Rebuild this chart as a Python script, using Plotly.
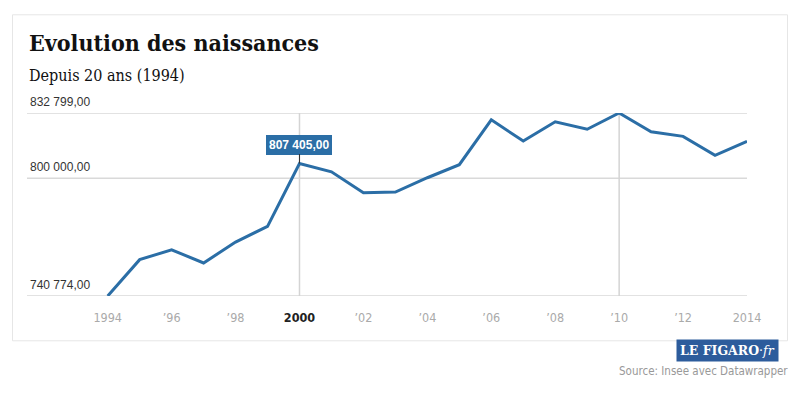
import plotly.graph_objects as go

years = list(range(1994, 2015))
births = [740774, 759058, 764028, 757384, 767906, 775796, 807405, 803234,
          792745, 793044, 800240, 806822, 829352, 818705, 828404, 824641,
          832799, 823394, 821047, 811510, 818565]
y_ticks = [740774, 800000, 832799]
x_tickvals = list(range(1994, 2015, 2))
x_ticktext = ["1994", "’96", "’98", "<b><span style='color:#222'>2000</span></b>", "’02", "’04",
              "’06", "’08", "’10", "’12", "2014"]
highlight_year = 2000
vlines = [2000, 2010]

# page body has an 8px margin; work in reference pixel coords and shift
OFF = 8
W, H = 800 - OFF, 393 - OFF
PL, PR, PT, PB = 27, 747, 112.7, 295.7   # plot area in reference pixels
L, R, T, B = PL - OFF, W - (PR - OFF), PT - OFF, H - (PB - OFF)
PW, PH = PR - PL, PB - PT

def px(x):
    return (x - PL) / PW

def py(y):
    return (PB - y) / PH

def fmt(v):
    s = f"{v:,.2f}"
    return s.replace(",", " ").replace(".", ",")

blue = "#2b6ea6"

fig = go.Figure()
fig.add_trace(go.Scatter(x=years, y=births, mode="lines",
                         line=dict(color=blue, width=3),
                         cliponaxis=False, hoverinfo="skip"))

shapes = []
shapes.append(dict(type="rect", xref="paper", yref="paper",
                   x0=px(12.5), x1=px(787.5), y0=py(340.5), y1=py(14.5),
                   line=dict(color="#e6e6e6", width=1), fillcolor="rgba(0,0,0,0)", layer="below"))
for v in y_ticks:
    shapes.append(dict(type="line", xref="paper", yref="y", x0=0, x1=1, y0=v, y1=v,
                       line=dict(color="#d9d9d9", width=1.5), layer="below"))
for v in vlines:
    shapes.append(dict(type="line", xref="x", yref="y", x0=v, x1=v,
                       y0=y_ticks[0], y1=y_ticks[-1],
                       line=dict(color="#d4d4d4", width=1.5), layer="below"))

annotations = []
annotations.append(dict(xref="paper", yref="paper", x=px(27), y=py(42), xanchor="left", yanchor="middle",
                        text="<b>Evolution des naissances</b>", showarrow=False,
                        font=dict(family="DejaVu Serif Condensed, DejaVu Serif", size=23, color="#111")))
annotations.append(dict(xref="paper", yref="paper", x=px(27), y=py(75), xanchor="left", yanchor="middle",
                        text="Depuis 20 ans (1994)", showarrow=False,
                        font=dict(family="DejaVu Serif Condensed, DejaVu Serif", size=16, color="#111")))
for v in y_ticks:
    annotations.append(dict(xref="paper", yref="y", x=px(28), y=v, xanchor="left", yanchor="bottom",
                            yshift=2, text=fmt(v), showarrow=False,
                            font=dict(family="Liberation Sans, Arial", size=12, color="#333")))
hv = births[years.index(highlight_year)]
annotations.append(dict(xref="x", yref="y", x=highlight_year, y=hv, text="<b>" + fmt(hv) + "</b>",
                        showarrow=True, arrowhead=0, arrowwidth=1, arrowcolor="#333",
                        ax=0, ay=-19, bgcolor=blue, bordercolor=blue, borderpad=2,
                        font=dict(family="Liberation Sans, Arial", size=12, color="white")))
annotations.append(dict(xref="paper", yref="paper", x=px(779), y=py(350.5), xanchor="right", yanchor="middle",
                        text="<b>LE FIGARO</b>·<i>fr</i>", showarrow=False, bgcolor="#2d5c9c",
                        borderpad=3, font=dict(family="DejaVu Serif, serif", size=12.5, color="white")))
annotations.append(dict(xref="paper", yref="paper", x=px(790), y=py(371), xanchor="right", yanchor="middle",
                        text="Source: Insee avec Datawrapper", showarrow=False,
                        font=dict(family="DejaVu Sans Condensed", size=11.5, color="#999")))

fig.update_layout(
    width=W, height=H, margin=dict(l=L, r=R, t=T, b=B, pad=0),
    paper_bgcolor="white", plot_bgcolor="white", showlegend=False,
    shapes=shapes, annotations=annotations,
    xaxis=dict(range=[1994 - (107.7 - PL) / ((PR - 107.7) / 20), 2014], tickvals=x_tickvals, ticktext=x_ticktext,
               showgrid=False, zeroline=False, showline=False, ticks="",
               ticklabelstandoff=12,
               tickfont=dict(family="DejaVu Sans Condensed", size=12.5, color="#aaa")),
    yaxis=dict(range=[y_ticks[0], y_ticks[-1]], tickvals=y_ticks, showticklabels=False,
               showgrid=False, zeroline=False, showline=False),
)
fig.write_html("out.html")
